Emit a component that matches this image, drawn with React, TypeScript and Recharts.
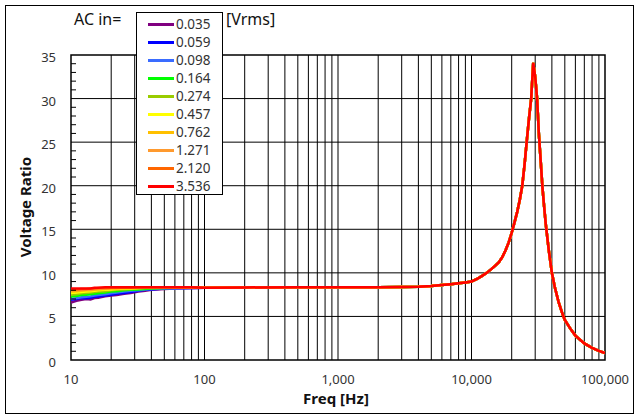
import { LineChart, Line, XAxis, YAxis, ReferenceLine, ReferenceArea } from 'recharts'

// frequency points [Hz]
const FREQ = [
  10, 11, 12, 13, 14, 15, 16, 18, 20, 22, 25, 28, 32, 36, 40, 50, 60, 80,
  100, 200, 500, 1000, 2000, 3000, 4000, 5000, 6000, 7000, 8000, 9000, 10000,
  11000, 12000, 13000, 14000, 15000, 16000, 17000, 18000, 19000, 20000, 21000, 22000, 23000, 24000,
  25000, 26000, 27000, 28000, 29000, 30000, 31000, 32000, 33000, 34000, 35000, 36000,
  38000, 40000, 42000, 45000, 48000, 50000, 55000, 60000, 70000, 80000, 90000, 100000,
]

// low-frequency part (10..80 Hz) per input level
const LOW_0035 = [6.6, 6.8, 6.9, 7.0, 6.95, 7.1, 7.15, 7.3, 7.4, 7.45, 7.6, 7.7, 7.85, 7.95, 8.05, 8.15, 8.2, 8.25]
const LOW_0059 = [6.9, 7.0, 7.1, 7.1, 7.15, 7.25, 7.3, 7.4, 7.5, 7.6, 7.7, 7.8, 7.95, 8.05, 8.1, 8.2, 8.25, 8.25]
const LOW_0098 = [7.0, 7.1, 7.2, 7.25, 7.3, 7.4, 7.45, 7.55, 7.65, 7.75, 7.85, 7.95, 8.0, 8.1, 8.15, 8.2, 8.2, 8.25]
const LOW_0164 = [7.3, 7.35, 7.45, 7.5, 7.55, 7.6, 7.65, 7.75, 7.85, 7.9, 8.0, 8.05, 8.1, 8.15, 8.2, 8.25, 8.3, 8.3]
const LOW_0274 = [7.5, 7.55, 7.65, 7.7, 7.75, 7.8, 7.85, 7.9, 8.0, 8.05, 8.1, 8.15, 8.2, 8.25, 8.25, 8.3, 8.3, 8.3]
const LOW_0457 = [7.7, 7.75, 7.8, 7.85, 7.9, 7.95, 8.0, 8.05, 8.1, 8.15, 8.2, 8.2, 8.25, 8.3, 8.3, 8.35, 8.35, 8.35]
const LOW_0762 = [7.85, 7.9, 7.95, 8.0, 8.0, 8.05, 8.1, 8.15, 8.2, 8.2, 8.25, 8.25, 8.3, 8.3, 8.3, 8.35, 8.35, 8.35]
const LOW_1271 = [8.0, 8.0, 8.05, 8.1, 8.1, 8.15, 8.2, 8.2, 8.25, 8.25, 8.3, 8.3, 8.3, 8.3, 8.35, 8.35, 8.35, 8.35]
const LOW_2120 = [8.1, 8.1, 8.15, 8.15, 8.2, 8.2, 8.25, 8.25, 8.3, 8.3, 8.3, 8.3, 8.35, 8.35, 8.35, 8.35, 8.35, 8.35]
const LOW_3536 = [8.2, 8.2, 8.2, 8.2, 8.2, 8.3, 8.3, 8.35, 8.35, 8.35, 8.35, 8.35, 8.35, 8.35, 8.35, 8.35, 8.35, 8.35]

// 100 Hz .. 100 kHz, curves overlap there
const HIGH = [
  8.3, 8.33, 8.35, 8.35, 8.35, 8.37, 8.42, 8.5, 8.6, 8.7, 8.8, 8.9, 9.0,
  9.3, 9.65, 10.0, 10.4, 10.8, 11.2, 11.8, 12.6, 13.5, 14.6, 15.8, 17.0, 18.4, 20.0,
  22.5, 25.3, 27.8, 30.0, 34.1, 32.5, 30.0, 25.8, 22.8, 19.8, 17.6, 15.6,
  12.5, 10.0, 8.4, 6.6, 5.3, 4.6, 3.6, 2.8, 1.9, 1.4, 1.05, 0.8,
]

const LEVELS = ['0.035', '0.059', '0.098', '0.164', '0.274', '0.457', '0.762', '1.271', '2.120', '3.536']
const COLORS = ['#800080', '#0000ff', '#3a6cff', '#00ff00', '#99cc00', '#ffff00', '#ffc000', '#ff9a2e', '#ff6600', '#ff0000']
const LOWS = [LOW_0035, LOW_0059, LOW_0098, LOW_0164, LOW_0274, LOW_0457, LOW_0762, LOW_1271, LOW_2120, LOW_3536]

const X_TICKS = [10, 100, 1000, 10000, 100000]
const X_GRID = [
  20, 30, 40, 50, 60, 70, 80, 90, 100,
  200, 300, 400, 500, 600, 700, 800, 900, 1000,
  2000, 3000, 4000, 5000, 6000, 7000, 8000, 9000, 10000,
  20000, 30000, 40000, 50000, 60000, 70000, 80000, 90000,
]
const Y_TICKS = Array.from({ length: 36 }, (_, i) => i)
const Y_GRID = [5, 10, 15, 20, 25, 30]

const data = FREQ.map((f, i) => {
  const row: Record<string, number> = { f }
  LEVELS.forEach((k, s) => {
    row[k] = i < LOWS[s].length ? LOWS[s][i] : HIGH[i - LOWS[s].length]
  })
  return row
})

const FONT = '"Noto Sans", "DejaVu Sans", sans-serif'

const YTick = (props: any) => {
  const { x, y, payload } = props
  const v = payload.value
  if (v % 5 !== 0) return <line x1={x} x2={x + 5} y1={y} y2={y} stroke="#000" />
  return (
    <text x={x - 15} y={y + 2} textAnchor="end" dominantBaseline="central" fontSize={13} fill="#333" fontFamily={FONT}>
      {v}
    </text>
  )
}

export default function App() {
  return (
    <div style={{ position: 'absolute', left: 0, top: 0, width: 641, height: 420, background: '#fff', fontFamily: FONT }}>
      <div style={{ position: 'absolute', left: 5, top: 5, width: 629, height: 409, border: '1px solid #000', boxSizing: 'border-box' }} />
      <LineChart width={641} height={420} data={data} margin={{ top: 55, right: 36, left: 21, bottom: 10 }}>
        <XAxis
          dataKey="f" type="number" scale="log" domain={[10, 100000]} ticks={X_TICKS} interval={0}
          allowDataOverflow height={50} axisLine={false} tickLine={false} tickSize={0} tickMargin={15}
          tick={{ fontSize: 13, fill: '#333', fontFamily: FONT }}
          tickFormatter={(v: number) => v.toLocaleString('en-US')}
        />
        <YAxis
          type="number" domain={[0, 35]} ticks={Y_TICKS} interval={0} width={50}
          axisLine={false} tickLine={false} tickSize={0} tickMargin={0} tick={<YTick />}
        />
        {X_GRID.map(f => <ReferenceLine key={'x' + f} x={f} stroke="#000" strokeWidth={1} />)}
        {Y_GRID.map(v => <ReferenceLine key={'y' + v} y={v} stroke="#000" strokeWidth={1} />)}
        <ReferenceArea x1={10} x2={100000} y1={0} y2={35} fill="none" stroke="#000" strokeWidth={1.5} />
        {LEVELS.map((k, s) => (
          <Line key={k} dataKey={k} stroke={COLORS[s]} strokeWidth={2.5} dot={false} isAnimationActive={false} />
        ))}
      </LineChart>
      <div style={{ position: 'absolute', left: 74, top: 9, fontSize: 16, color: '#111', lineHeight: '20px' }}>AC in=</div>
      <div style={{ position: 'absolute', left: 226, top: 9, fontSize: 16, color: '#111', lineHeight: '20px' }}>[Vrms]</div>
      <div style={{ position: 'absolute', left: 136, top: 12, width: 87, height: 183, border: '1px solid #000', background: '#fff', boxSizing: 'border-box', paddingTop: 2 }}>
        {LEVELS.map((k, s) => (
          <div key={k} style={{ display: 'flex', alignItems: 'center', height: 18 }}>
            <span style={{ marginLeft: 11, width: 26, height: 3, background: COLORS[s] }} />
            <span style={{ marginLeft: 2, fontSize: 13.5, color: '#333', lineHeight: '18px' }}>{k}</span>
          </div>
        ))}
      </div>
      <div style={{ position: 'absolute', left: 25, top: 207, transform: 'translate(-50%, -50%) rotate(-90deg)', fontSize: 15, fontWeight: 'bold', color: '#111', whiteSpace: 'nowrap' }}>
        Voltage Ratio
      </div>
      <div style={{ position: 'absolute', left: 336, top: 398, transform: 'translate(-50%, -50%)', fontSize: 15, fontWeight: 'bold', color: '#111', whiteSpace: 'nowrap' }}>
        Freq [Hz]
      </div>
    </div>
  )
}
